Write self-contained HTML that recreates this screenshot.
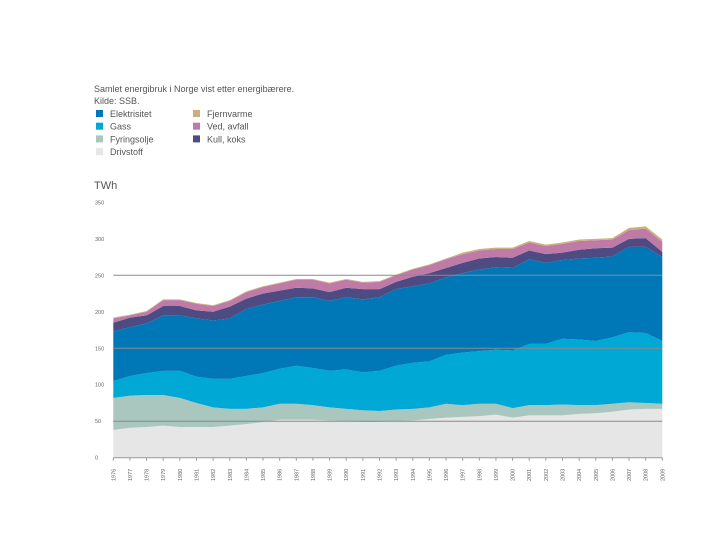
<!DOCTYPE html>
<html><head><meta charset="utf-8"><style>
body{margin:0;background:#fff;width:720px;height:540px;overflow:hidden;font-family:"Liberation Sans",sans-serif}
</style></head><body>
<svg width="720" height="540" id="chart" font-family="Liberation Sans, sans-serif">
<text x="94" y="92" font-size="9" fill="#555">Samlet energibruk i Norge vist etter energibærere.</text>
<text x="94" y="104" font-size="9" fill="#555">Kilde: SSB.</text>
<g id="legend"></g>
<text x="94" y="189" font-size="11" fill="#555">TWh</text>
<g id="areas"></g><g id="grid"></g><g id="axes"></g>
</svg>
<script>
const years=[1976,1977,1978,1979,1980,1981,1982,1983,1984,1985,1986,1987,1988,1989,1990,1991,1992,1993,1994,1995,1996,1997,1998,1999,2000,2001,2002,2003,2004,2005,2006,2007,2008,2009];
const drivstoff=[38,41,42,44,42,42,42,44,46,49,52,52,52,51,50,49,49,50,51,53,55,56,57,59,55,58,58,58,60,61,63,66,67,67];
const fyringsolje=[44,44,44,42,40,33,27,23,21,20,22,22,20,18,17,16,15,16,16,16,19,16,17,15,13,14,14,15,12,11,11,10,8,7];
const gass=[23,27,30,33,37,36,39,41,45,47,48,52,51,50,54,52,55,60,63,63,67,72,72,74,79,84,84,90,90,88,91,96,96,86];
const elektrisitet=[68,67,68,76,76,80,80,83,92,94,93,94,97,96,99,100,101,105,105,107,106,109,112,113,113,116,111,108,111,114,111,117,118,115];
const kullkoks=[12,13,11,13,13,11,12,16,14,15,14,13,12,12,13,14,11,10,13,14,13,14,15,14,14,12,12,10,12,13,12,11,12,7];
const vedavfall=[6,3,5,8,8,9,8,8,9,9,10,11,12,12,11,9,10,9,10,11,12,12,11,11,12,11,11,12,12,11,11,12,13,14];
const fjernvarme=[1,1,1,1,1,1,1,1,1,1,1,1,1,1,1,1,1,1,1,1,1,2,2,2,2,2,2,2,2,2,2,3,3,3];
const yTicks=[0,50,100,150,200,250,300,350];
const gridValues=[50,150,250];
const series=[
 {n:'Drivstoff',v:drivstoff,c:'#e6e6e6'},
 {n:'Fyringsolje',v:fyringsolje,c:'#a9c7bf'},
 {n:'Gass',v:gass,c:'#00a8d5'},
 {n:'Elektrisitet',v:elektrisitet,c:'#0078b8'},
 {n:'Kull, koks',v:kullkoks,c:'#4e4a82'},
 {n:'Ved, avfall',v:vedavfall,c:'#c07aa8'},
 {n:'Fjernvarme',v:fjernvarme,c:'#c8b07a'}];
const NS='http://www.w3.org/2000/svg';
const X0=113.3,X1=662.3,Y0=457.7,K=0.7296;
const x=i=>X0+(X1-X0)*i/(years.length-1);
const y=v=>Y0-v*K;
function mk(t,a,p){const e=document.createElementNS(NS,t);for(const k in a)e.setAttribute(k,a[k]);p.appendChild(e);return e;}
const areas=document.getElementById('areas');
let base=years.map(()=>0);
series.forEach(s=>{
 const top=base.map((b,i)=>b+s.v[i]);
 let d='M'+years.map((_,i)=>x(i)+','+y(top[i])).join('L');
 for(let i=years.length-1;i>=0;i--)d+='L'+x(i)+','+y(base[i]);
 const p=mk('path',{d:d+'Z',fill:s.c},areas);
 
 
 base=top;
});
const grid=document.getElementById('grid');
gridValues.forEach(v=>{
 const l=mk('line',{x1:X0,x2:X1,y1:y(v),y2:y(v),stroke:'#8a8a8a','stroke-width':1},grid);
 
 
});
const axes=document.getElementById('axes');
const ax=mk('line',{x1:X0,x2:X1,y1:Y0,y2:Y0,stroke:'#999','stroke-width':1},axes);


yTicks.forEach(v=>{
 const t=mk('text',{x:95,y:y(v)+2,'font-size':5.5,fill:'#666'},axes);
 t.textContent=v;
 
 
});
years.forEach((yr,i)=>{
 mk('line',{x1:x(i),x2:x(i),y1:Y0,y2:Y0+3,stroke:'#999'},axes);
 const t=mk('text',{x:0,y:0,'font-size':5.5,fill:'#666','text-anchor':'start'},axes);
 t.setAttribute('transform',`translate(${x(i)+2},466) rotate(-90) translate(-15,0)`);
 t.textContent=yr;
 
 
});
const lg=document.getElementById('legend');
const rows=[[0,3],[1,2],[2,1],[3,0],[0,6],[1,5],[2,4]];
rows.forEach(([r,si])=>{
 const s=series[si];const col=si>=4?1:0;
 const lx=col?193:96, ly=114+r*12.7;
 const sq=mk('rect',{x:lx,y:ly-4,width:7,height:7,fill:s.c},lg);
 
 
 const t=mk('text',{x:lx+14,y:ly+3,'font-size':9,fill:'#555'},lg);
 t.textContent=s.n;
 
 
});
</script>
</body></html>
